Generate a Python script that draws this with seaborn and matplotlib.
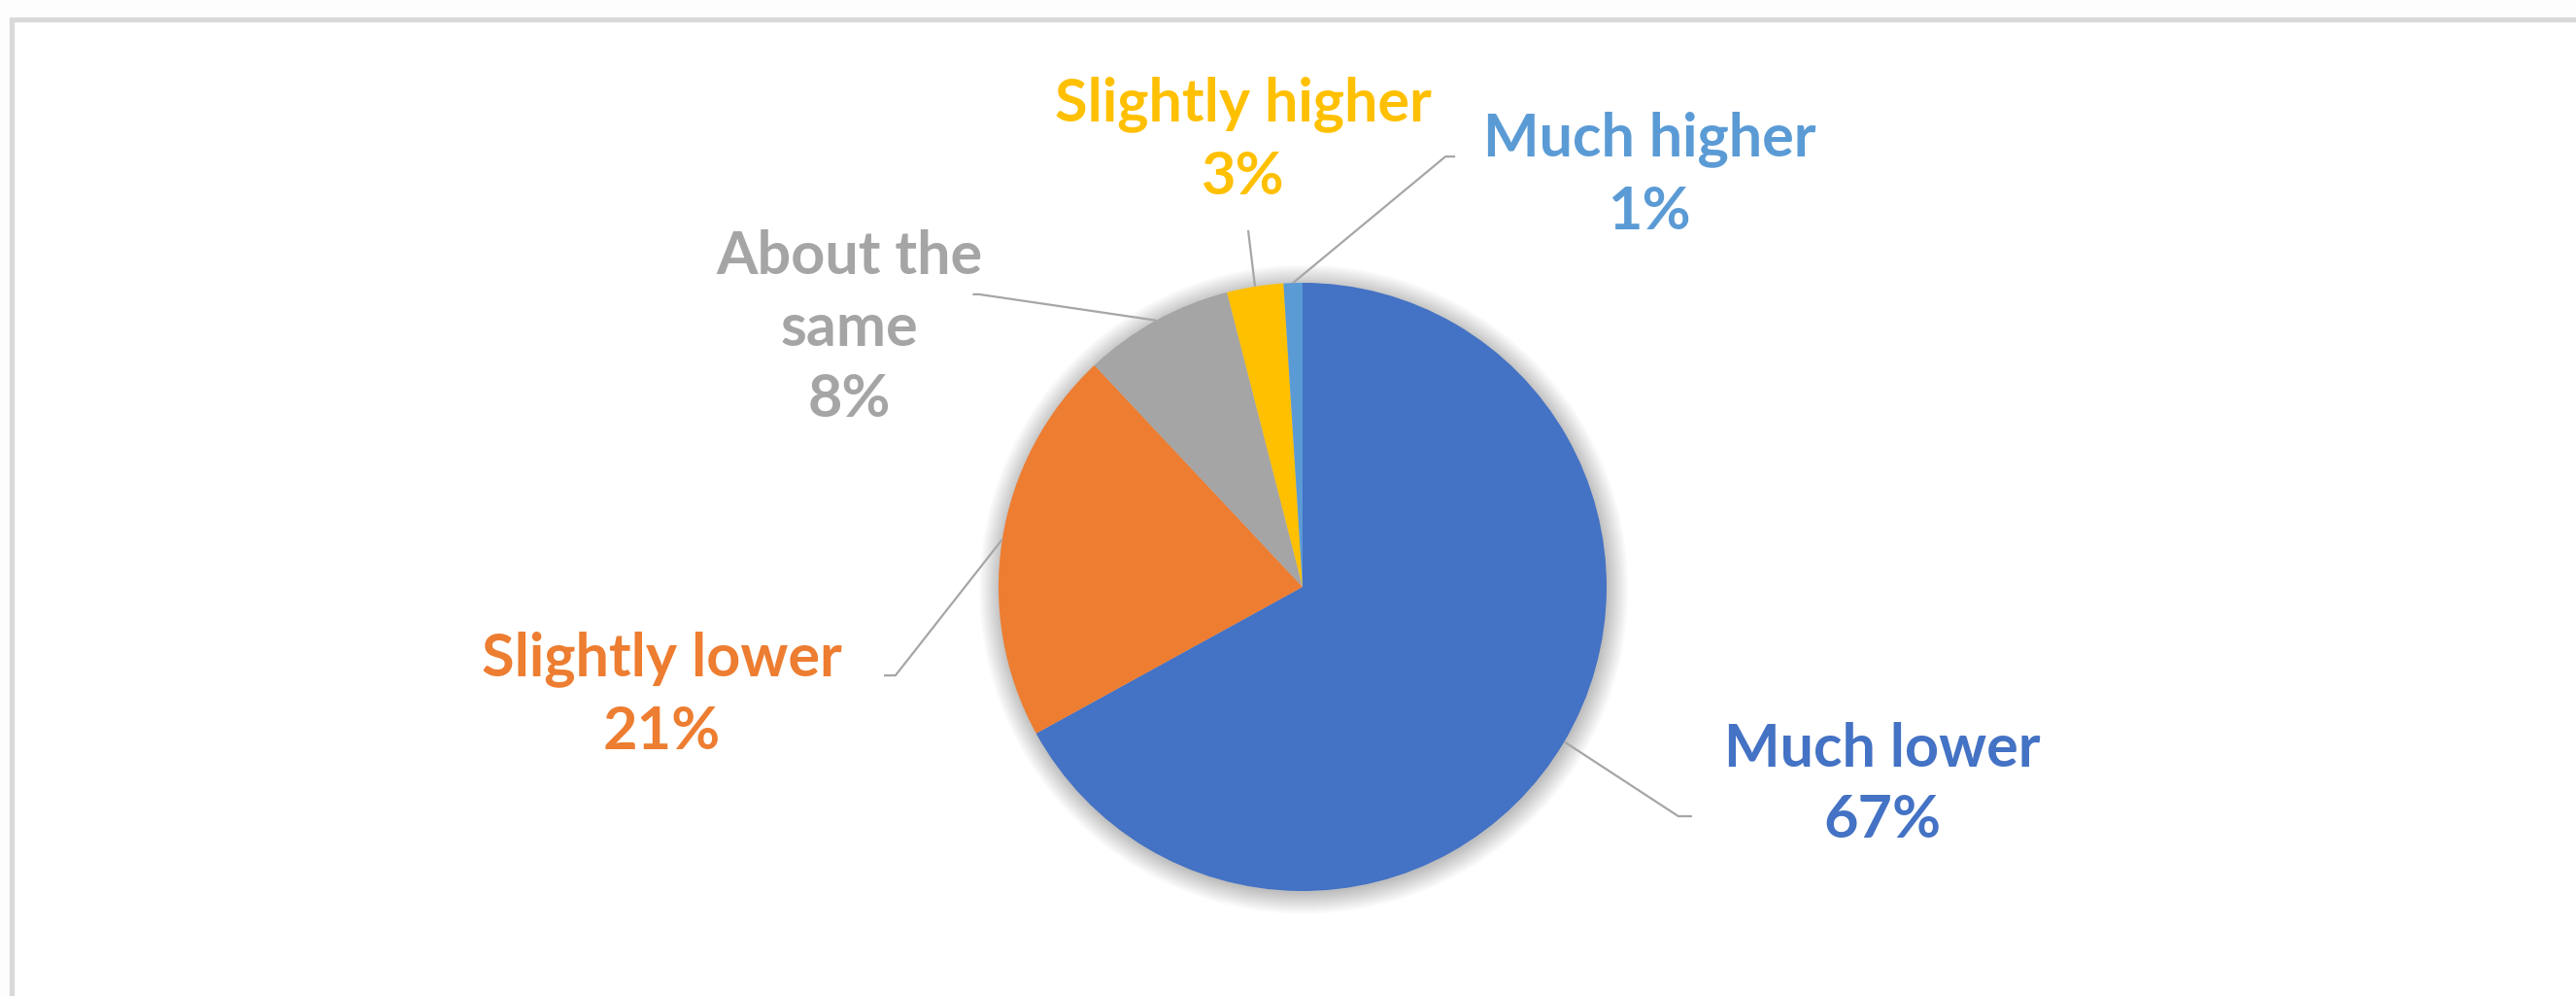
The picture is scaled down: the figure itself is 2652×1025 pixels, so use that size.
import numpy as np
import matplotlib
matplotlib.use("Agg")
import matplotlib.pyplot as plt
from matplotlib.patches import Circle, Rectangle
import seaborn as sns

# ---- data -------------------------------------------------------------
categories = ["Much lower", "Slightly lower", "About the same", "Slightly higher", "Much higher"]
shares = [67, 21, 8, 3, 1]
label_names = ["Much lower", "Slightly lower", "About the\nsame", "Slightly higher", "Much higher"]

# ---- styling / layout -------------------------------------------------
sns.set_theme(style="white")
plt.rcParams["font.family"] = ["Lato", "DejaVu Sans"]

palette = sns.color_palette(["#4472C4", "#ED7D31", "#A5A5A5", "#FFC000", "#5B9BD5"])
leader_color = "#A6A6A6"

# text centres and leader elbows, in units of the pie radius
label_pos = [(1.907, -0.650), (-2.109, -0.355), (-1.492, 0.850), (-0.195, 1.470), (1.141, 1.355)]
elbows = [
    [(1.236, -0.754), (1.281, -0.754)],
    [(-1.339, -0.291), (-1.377, -0.291)],
    [(-1.064, 0.962), (-1.085, 0.962)],
    [(-0.179, 1.173)],
    [(0.470, 1.415), (0.502, 1.415)],
]

W, H, DPI = 2652, 1025, 100
R_PX = 313.0
CX, CY = 1341.0, 604.0

fig = plt.figure(figsize=(W / DPI, H / DPI), dpi=DPI)
fig.patch.set_facecolor("#FDFDFD")

# chart area with its light grey frame (extends beyond the right/bottom edge)
frame = Rectangle((12 / W, -0.1), 1.2, (H - 20) / H + 0.1, transform=fig.transFigure,
                  facecolor="white", edgecolor="#D9D9D9", linewidth=3.8, zorder=-5)
fig.patches.append(frame)

ax = fig.add_axes([0, 0, 1, 1])
ax.set_facecolor("none")
ax.set_zorder(1)

# soft drop shadow behind the pie
for i in range(16):
    ax.add_patch(Circle((0.004, -0.008), 1.0 + i * 0.0045, facecolor="black",
                        alpha=0.016, linewidth=0, zorder=1))

wedges, _ = ax.pie(shares, colors=palette, startangle=90, counterclock=False,
                   radius=1.0, center=(0, 0), wedgeprops=dict(linewidth=0, zorder=2))

total = float(sum(shares))
cum = np.cumsum([0] + shares[:-1])
for i, (name, val) in enumerate(zip(label_names, shares)):
    mid = np.deg2rad(90 - (cum[i] + val / 2.0) / total * 360.0)
    edge = (np.cos(mid), np.sin(mid))
    pts = [edge] + elbows[i]
    xs, ys = zip(*pts)
    ax.plot(xs, ys, color=leader_color, linewidth=1.6, zorder=3, solid_capstyle="butt")
    ax.text(label_pos[i][0], label_pos[i][1], f"{name}\n{val}%", ha="center", va="center",
            multialignment="center", color=palette[i], fontsize=44, fontweight="bold",
            linespacing=1.38, zorder=4)

ax.set_xlim(-CX / R_PX, (W - CX) / R_PX)
ax.set_ylim(-(H - CY) / R_PX, CY / R_PX)
ax.set_aspect("equal", adjustable="box")
ax.axis("off")

fig.savefig("out.png", dpi=DPI, facecolor=fig.get_facecolor())
